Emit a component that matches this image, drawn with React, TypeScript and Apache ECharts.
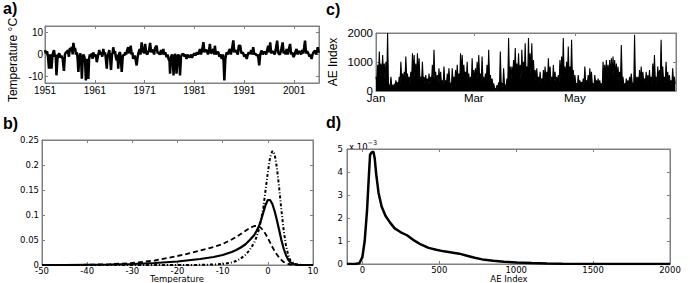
import React, { useEffect, useRef } from "react";
import * as echarts from "echarts";

// ---------- Panel a: temperature series (year, value) ----------
const TEMP_SERIES: number[][] = [
  [1951.0, 2], [1951.2, 0.5], [1951.4, 1.5], [1951.6, -1], [1951.8, -6.5], [1952.0, 0], [1952.15, -1], [1952.3, -6.5],
  [1952.5, -0.5], [1952.65, 1], [1952.8, 2], [1953.0, -1], [1953.15, 0], [1953.3, -9.5], [1953.5, -2], [1953.7, 0],
  [1953.9, 0.5], [1954.1, -1.5], [1954.3, -0.5], [1954.55, -2], [1954.8, -7.5], [1955.0, 0], [1955.2, 1], [1955.35, 1],
  [1955.6, 2], [1955.8, -1], [1956.0, 3], [1956.2, 1.5], [1956.4, 3.5], [1956.55, 0], [1956.7, 5.3], [1956.9, 2],
  [1957.05, 3], [1957.2, 0], [1957.4, 1], [1957.55, -2], [1957.7, -8], [1957.9, -1], [1958.1, 0.5], [1958.25, -2],
  [1958.4, -11], [1958.55, -3], [1958.7, 0], [1958.9, -1], [1959.05, -3], [1959.2, -11.8], [1959.4, -2], [1959.55, -3],
  [1959.7, -11.2], [1959.85, -2], [1960.0, 0], [1960.2, -1], [1960.4, 0.5], [1960.55, -2], [1960.7, 1], [1960.9, -1],
  [1961.1, 0], [1961.25, -1], [1961.4, -3.5], [1961.6, -1], [1961.75, 0.5], [1961.9, 2], [1962.1, 0], [1962.3, 1],
  [1962.5, -1], [1962.7, 2.5], [1962.9, 0], [1963.05, 1], [1963.2, -1.5], [1963.4, -6.5], [1963.55, -1], [1963.7, 0],
  [1963.9, 2], [1964.05, -1], [1964.25, -7], [1964.45, 0], [1964.6, 1], [1964.7, 3.3], [1964.9, 0.5], [1965.05, 1.5],
  [1965.2, -1], [1965.4, -2.7], [1965.55, 0], [1965.7, -6.5], [1965.9, 0.5], [1966.05, 1], [1966.2, -1], [1966.4, -8],
  [1966.6, -1], [1966.8, 0], [1966.95, -0.5], [1967.1, 1], [1967.3, 0], [1967.5, 2], [1967.7, 3.3], [1967.9, 0.5],
  [1968.05, 1.5], [1968.2, 4], [1968.4, 0], [1968.55, 1], [1968.7, -2], [1968.85, -1], [1969.0, -0.5], [1969.2, -2.5],
  [1969.4, -5], [1969.6, -1], [1969.8, 1], [1970.0, 2.5], [1970.15, 0], [1970.3, 3], [1970.4, 5.5], [1970.6, 1],
  [1970.75, 2], [1970.9, 0.5], [1971.1, 4.8], [1971.3, 1], [1971.5, 0], [1971.7, 1], [1971.9, 2], [1972.1, 5.3],
  [1972.3, 1], [1972.5, 2], [1972.7, 1.8], [1972.9, 0], [1973.1, 3], [1973.4, 4], [1973.6, 0.5], [1973.8, 1],
  [1974.0, 0], [1974.1, 0.3], [1974.3, 2], [1974.5, 0], [1974.75, 2.5], [1974.95, 0], [1975.15, 1], [1975.4, -1.2],
  [1975.6, 0], [1975.8, -2], [1976.0, -3], [1976.1, -8.8], [1976.3, -1], [1976.5, 0], [1976.65, -2], [1976.8, -9.5],
  [1977.0, -1], [1977.1, 0.3], [1977.25, -1], [1977.4, -8.8], [1977.6, -1], [1977.8, 0], [1977.95, -2], [1978.1, -9.5],
  [1978.3, -1], [1978.5, 0], [1978.8, 0.3], [1979.0, -1], [1979.2, 0], [1979.4, -2], [1979.6, 0], [1979.8, -1],
  [1980.1, -1.2], [1980.3, 0], [1980.5, -1.5], [1980.8, 0], [1981.0, 0.5], [1981.2, -0.5], [1981.5, 1], [1981.7, 0],
  [1981.9, 1], [1982.1, 2.5], [1982.3, 0], [1982.5, 1.5], [1982.8, 5.6], [1983.0, 1], [1983.2, 2], [1983.5, 1.8],
  [1983.7, 0], [1983.9, 1.5], [1984.1, 4.8], [1984.3, 0.5], [1984.5, 1], [1984.8, 2.5], [1985.0, 0], [1985.1, 4],
  [1985.3, 0], [1985.55, 1], [1985.8, 1], [1986.0, -1], [1986.2, 0], [1986.5, -2], [1986.7, 0], [1986.85, -3],
  [1987.0, -11.8], [1987.2, -2], [1987.35, 0], [1987.5, 1], [1987.7, 0], [1987.9, 1.5], [1988.1, 2.5], [1988.3, 0],
  [1988.5, 2], [1988.8, 6.4], [1989.0, 1], [1989.2, 2], [1989.5, 1], [1989.7, 0], [1989.9, 4], [1990.2, 4],
  [1990.4, 0.5], [1990.6, 1], [1990.8, 0.5], [1991.0, -1], [1991.2, 0], [1991.5, -2], [1991.7, 0], [1991.9, 1],
  [1992.2, 0.3], [1992.4, 2], [1992.6, 0], [1992.8, 3.3], [1993.0, 0], [1993.2, 0.5], [1993.5, -0.5], [1993.7, 0],
  [1993.85, -2], [1994.0, -5], [1994.2, 0], [1994.35, 1], [1994.5, 1.8], [1994.7, 0], [1994.9, 1], [1995.2, 1],
  [1995.4, 0], [1995.6, 2], [1995.8, 4], [1996.0, 1], [1996.2, 5.5], [1996.4, 0.5], [1996.6, 1.5], [1996.9, 1],
  [1997.1, 0], [1997.3, 2], [1997.6, 6.3], [1997.8, 1], [1998.0, 0], [1998.2, 0.3], [1998.4, 2], [1998.7, 5.5],
  [1998.9, 0.5], [1999.1, 1.5], [1999.3, 0], [1999.5, 2.5], [1999.7, 0], [1999.9, 2], [2000.2, 4.8], [2000.4, 0],
  [2000.6, 1], [2000.9, -1.2], [2001.1, 0], [2001.3, 1.5], [2001.5, 2.5], [2001.7, 0], [2001.9, 1.5], [2002.2, 1],
  [2002.4, 0], [2002.6, 2], [2002.8, 0.5], [2003.0, 3], [2003.2, 6.3], [2003.4, 0.5], [2003.6, 1.5], [2003.9, 0.3],
  [2004.1, -1], [2004.3, 0], [2004.5, -2], [2004.7, 0], [2004.9, 1], [2005.2, 1.8], [2005.4, 0], [2005.6, 1.5],
  [2005.75, 3.3], [2005.9, 1], [2006.0, 1.5],
];
const TEMP_START_YEAR = 1951;
const TEMP_END_YEAR = 2006;
const TEMP_YEAR_TICKS = [1951, 1961, 1971, 1981, 1991, 2001];
const TEMP_TICKS = [-10, 0, 10];

// ---------- Panel b: density curves ----------
const PDF_X = [-50, -45, -40, -35, -30, -25, -20, -17, -15, -12, -10, -8, -7, -6, -5, -4, -3, -2.5, -2, -1.5, -1, -0.5, 0,
  0.5, 1, 1.5, 2, 2.5, 3, 3.5, 4, 4.5, 5, 6, 7, 8, 10];
const PDF_SOLID = [0, 0, 0.0005, 0.001, 0.002, 0.004, 0.007, 0.010, 0.012, 0.016, 0.020, 0.026, 0.030, 0.035, 0.041, 0.050,
  0.060, 0.068, 0.077, 0.090, 0.105, 0.120, 0.130, 0.130, 0.122, 0.108, 0.090, 0.070, 0.050, 0.033, 0.020, 0.011, 0.005,
  0.001, 0, 0, 0];
const PDF_DASHED = [0, 0, 0.0005, 0.0015, 0.004, 0.009, 0.018, 0.024, 0.029, 0.036, 0.042, 0.051, 0.056, 0.062, 0.068,
  0.074, 0.078, 0.078, 0.077, 0.074, 0.069, 0.062, 0.054, 0.045, 0.036, 0.028, 0.021, 0.015, 0.010, 0.006, 0.004, 0.002,
  0.001, 0, 0, 0, 0];
const PDF_DOTTED = [0, 0, 0, 0, 0, 0, 0, 0, 0.0003, 0.001, 0.002, 0.005, 0.008, 0.013, 0.020, 0.030, 0.045, 0.056, 0.070,
  0.090, 0.115, 0.150, 0.185, 0.215, 0.228, 0.222, 0.195, 0.155, 0.110, 0.070, 0.040, 0.020, 0.009, 0.002, 0.0005, 0, 0];

// ---------- Panel c: AE index, daily peaks and troughs (day of year from Jan 1) ----------
const AE_HIGH = [
  490, 900, 1360, 950, 1240, 950, 1010, 2000, 200, 490, 200, 250, 370, 300, 490, 1010, 600, 660, 1190, 600,
  490, 660, 1300, 1240, 950, 1300, 1130, 490, 1010, 490, 550, 430, 600, 490, 900, 1420, 660, 550, 780, 660,
  370, 840, 370, 600, 780, 260, 780, 490, 720, 900, 600, 1300, 1240, 900, 660, 1010, 600, 490, 1130, 720,
  780, 1010, 1240, 600, 1190, 490, 600, 900, 1420, 550, 430, 260, 80, 200, 300, 1360, 260, 780, 200, 430,
  1830, 840, 840, 1070, 1480, 950, 1300, 900, 1420, 1010, 1650, 840, 1830, 1300, 1650, 1070, 720, 780, 490, 660,
  430, 720, 840, 660, 1130, 840, 490, 900, 660, 490, 550, 1070, 1190, 1830, 840, 1010, 1530, 840, 1770, 720,
  550, 260, 550, 370, 310, 430, 840, 370, 550, 780, 660, 260, 550, 370, 430, 370, 260, 1010, 900, 1070,
  900, 1070, 1130, 1190, 1070, 950, 840, 660, 1590, 490, 260, 430, 370, 490, 600, 260, 1940, 490, 490, 720,
  840, 660, 430, 660, 550, 720, 490, 950, 1240, 490, 840, 720, 1770, 840, 490, 1010, 660, 550, 370, 780,
  490,
];
const AE_LOW = [
  300, 450, 500, 420, 600, 380, 450, 250, 120, 180, 100, 150, 200, 160, 250, 350, 300, 400, 450, 300,
  250, 400, 500, 450, 380, 500, 420, 300, 350, 250, 300, 200, 250, 300, 350, 400, 300, 250, 300, 250,
  200, 300, 200, 250, 300, 150, 300, 250, 300, 350, 250, 450, 500, 400, 300, 350, 250, 200, 400, 300,
  350, 400, 450, 300, 400, 250, 300, 350, 400, 250, 200, 120, 60, 100, 120, 300, 100, 250, 120, 200,
  450, 400, 450, 500, 550, 450, 500, 400, 550, 450, 600, 450, 600, 550, 500, 450, 350, 300, 250, 300,
  250, 300, 350, 300, 400, 350, 250, 350, 300, 250, 300, 400, 450, 500, 400, 450, 500, 400, 450, 300,
  250, 150, 250, 200, 150, 200, 300, 200, 250, 300, 250, 150, 250, 200, 200, 180, 150, 400, 450, 500,
  450, 500, 550, 500, 450, 400, 350, 300, 450, 200, 150, 200, 180, 250, 300, 150, 400, 250, 200, 300,
  350, 300, 250, 300, 250, 300, 250, 350, 400, 250, 350, 300, 450, 350, 250, 400, 300, 250, 200, 300,
  250,
];
const AE_MONTH_TICKS = [0, 59, 120];
const AE_MONTH_LABELS = ["Jan", "Mar", "May"];

// ---------- Panel d: AE index density ----------
const AE_PDF: number[][] = [
  [-100, 0], [-50, 0], [-20, 0.00003], [0, 0.0003], [15, 0.001], [30, 0.0023], [42, 0.0038], [50, 0.00475], [60, 0.00485],
  [72, 0.00488], [80, 0.0046], [90, 0.0039], [105, 0.0031], [125, 0.0025], [150, 0.0021], [180, 0.0018], [210, 0.00155],
  [250, 0.00138], [290, 0.00125], [330, 0.00105], [380, 0.00085], [430, 0.0007], [480, 0.00062], [530, 0.00055],
  [580, 0.0005], [630, 0.00045], [680, 0.00036], [730, 0.00027], [780, 0.0002], [850, 0.00014], [920, 0.0001],
  [1000, 0.00007], [1100, 0.00004], [1200, 0.00002], [1300, 0.00001], [1500, 0.000003], [2000, 0],
];
const AE_PDF_XTICKS = [0, 500, 1000, 1500, 2000];

const SANS = "Liberation Sans, Arial, sans-serif";
const WIDE = "DejaVu Sans, sans-serif";
const BOX = "#808080";

function buildOption() {
  const tempData = TEMP_SERIES.map(([y, v]) => [y - TEMP_START_YEAR, v]);
  const yearTicks = TEMP_YEAR_TICKS.map((y) => y - TEMP_START_YEAR);
  const aeData: number[][] = [];
  AE_HIGH.forEach((h, d) => {
    aeData.push([d, h]);
    aeData.push([d + 0.5, AE_LOW[d]]);
  });
  const pdf = (vals: number[]) => PDF_X.map((x, i) => [x, vals[i]]);

  const fa = { fontFamily: SANS, fontSize: 10, margin: 2 };
  const fc = { fontFamily: SANS, fontSize: 11.5, margin: 3 };
  const fb = { fontFamily: WIDE, fontSize: 8.5, margin: 1 };
  const plain = (v: number) => String(v);

  const grids = [
    { left: 45, top: 26, width: 274, height: 57 },
    { left: 42, top: 140, width: 271, height: 125 },
    { left: 376, top: 33, width: 300, height: 58 },
    { left: 347, top: 149, width: 323, height: 115 },
  ].map((g) => ({ ...g, show: true, borderColor: BOX, borderWidth: 1, containLabel: false }));

  // axis spec: range + optional custom tick positions + label formatter
  const mk = (gi: number, pos: string, spec: any, font: any, showLabel: boolean) => {
    const tick: any = { show: true, inside: true, length: 3, lineStyle: { color: BOX } };
    const label: any = { show: showLabel, color: "#000", ...font, formatter: spec.fmt || plain };
    if (spec.ticks) {
      tick.customValues = spec.ticks;
      label.customValues = spec.ticks;
    }
    if (spec.margin !== undefined) label.margin = spec.margin;
    const ax: any = {
      gridIndex: gi, type: "value", position: pos, min: spec.min, max: spec.max,
      splitLine: { show: false },
      axisLine: { show: true, onZero: false, lineStyle: { color: BOX, width: 1 } },
      axisTick: tick, axisLabel: label,
    };
    if (spec.interval !== undefined) ax.interval = spec.interval;
    return ax;
  };

  const aX = { min: 0, max: TEMP_END_YEAR - TEMP_START_YEAR, ticks: yearTicks, fmt: (v: number) => String(TEMP_START_YEAR + v) };
  const aY = { min: -13, max: 13, ticks: TEMP_TICKS };
  const bX = { min: -50, max: 10, interval: 10 };
  const bY = { min: 0, max: 0.25, interval: 0.05, margin: 3, fmt: (v: number) => String(+v.toFixed(2)) };
  const cX = {
    min: 0, max: 181, ticks: AE_MONTH_TICKS, margin: 1,
    fmt: (v: number) => AE_MONTH_LABELS[AE_MONTH_TICKS.indexOf(Math.round(v))] ?? "",
  };
  const cY = { min: 0, max: 2000, interval: 1000, margin: 3 };
  const dX = { min: -100, max: 2000, ticks: AE_PDF_XTICKS };
  const dY = { min: 0, max: 0.005, interval: 0.001, margin: 4, fmt: (v: number) => String(Math.round(v * 1000)) };

  const xAxis = [
    mk(0, "bottom", aX, fa, true), mk(0, "top", aX, fa, false),
    mk(1, "bottom", bX, fb, true), mk(1, "top", bX, fb, false),
    mk(2, "bottom", cX, fc, true), mk(2, "top", cX, fc, false),
    mk(3, "bottom", dX, fb, true), mk(3, "top", dX, fb, false),
  ];
  const yAxis = [
    mk(0, "left", aY, fa, true), mk(0, "right", aY, fa, false),
    mk(1, "left", bY, fb, true), mk(1, "right", bY, fb, false),
    mk(2, "left", cY, fc, true), mk(2, "right", cY, fc, false),
    mk(3, "left", dY, fb, true), mk(3, "right", dY, fb, false),
  ];

  const base = { type: "line", symbol: "none", silent: true, clip: true };
  const series = [
    { ...base, xAxisIndex: 0, yAxisIndex: 0, data: tempData, lineStyle: { color: "#000", width: 2.5 } },
    { ...base, xAxisIndex: 2, yAxisIndex: 2, data: pdf(PDF_DASHED), lineStyle: { color: "#000", width: 1.8, type: [5, 3] } },
    { ...base, xAxisIndex: 2, yAxisIndex: 2, data: pdf(PDF_DOTTED), lineStyle: { color: "#000", width: 2, type: [3, 2, 1, 2] } },
    { ...base, xAxisIndex: 2, yAxisIndex: 2, data: pdf(PDF_SOLID), lineStyle: { color: "#000", width: 2.2 } },
    { ...base, xAxisIndex: 4, yAxisIndex: 4, data: aeData, lineStyle: { color: "#000", width: 1.1 }, areaStyle: { color: "#000", opacity: 1 } },
    { ...base, xAxisIndex: 6, yAxisIndex: 6, data: AE_PDF, lineStyle: { color: "#000", width: 2.5 } },
  ];

  const txt = (x: number, y: number, text: string, style: any, rotation = 0) => ({
    type: "text", x, y, rotation, silent: true,
    style: { text, fill: "#000", align: "center", verticalAlign: "middle", ...style },
  });
  const panelFont = { fontFamily: SANS, fontSize: 16, fontWeight: "bold", align: "left", verticalAlign: "top" };

  const graphic = [
    txt(3, 0, "a)", panelFont),
    txt(3, 115, "b)", panelFont),
    txt(326, 1, "c)", panelFont),
    txt(326, 114, "d)", panelFont),
    txt(13, 60, "Temperature °C", { fontFamily: SANS, fontSize: 12 }, Math.PI / 2),
    txt(333, 62, "AE Index", { fontFamily: SANS, fontSize: 12 }, Math.PI / 2),
    txt(177, 279, "Temperature", { fontFamily: WIDE, fontSize: 8.5 }),
    txt(509, 279, "AE Index", { fontFamily: WIDE, fontSize: 8.5 }),
    {
      type: "text", x: 349, y: 139, silent: true,
      style: {
        text: "{a|x 10}{b|−3}", fill: "#000", align: "left", verticalAlign: "top",
        rich: { a: { fontFamily: WIDE, fontSize: 8.5, padding: [3, 0, 0, 0] }, b: { fontFamily: WIDE, fontSize: 6.5, verticalAlign: "top" } },
      },
    },
  ];

  return { animation: false, grid: grids, xAxis, yAxis, series, graphic };
}

export default function App() {
  const ref = useRef<HTMLDivElement>(null);
  useEffect(() => {
    const chart = echarts.init(ref.current!, null, { renderer: "svg" });
    chart.setOption(buildOption() as any);
    return () => chart.dispose();
  }, []);
  return <div ref={ref} style={{ position: "fixed", left: 0, top: 0, width: 690, height: 283, background: "#fff" }} />;
}
